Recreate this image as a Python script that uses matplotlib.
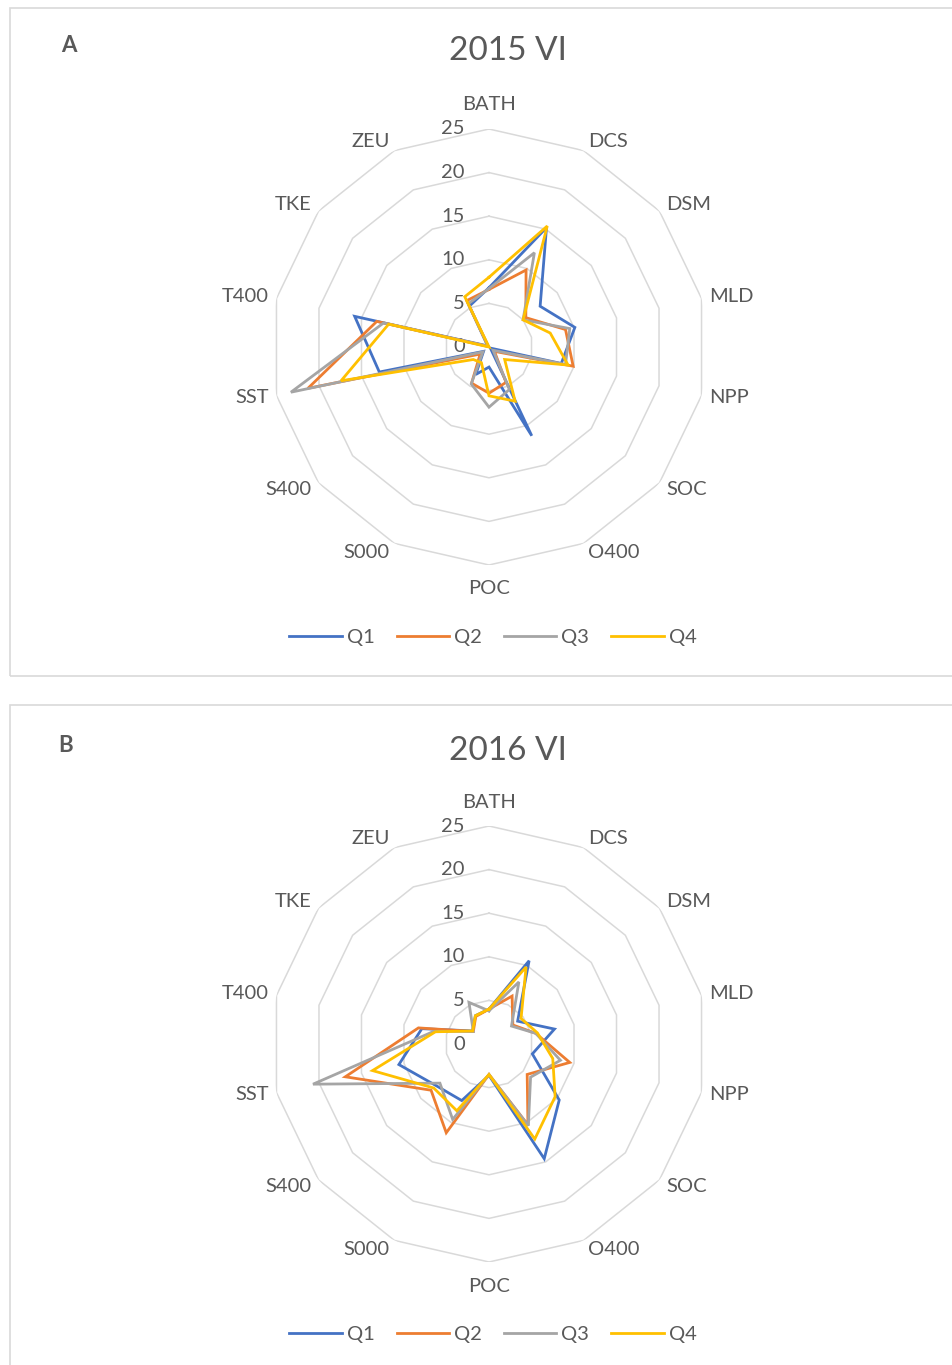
import numpy as np
import matplotlib
matplotlib.use("Agg")
import matplotlib.pyplot as plt
from matplotlib.patches import Rectangle

plt.rcParams['font.family'] = ['Lato', 'DejaVu Sans']

categories = ['BATH', 'DCS', 'DSM', 'MLD', 'NPP', 'SOC', 'O400', 'POC',
              'S000', 'S400', 'SST', 'T400', 'TKE', 'ZEU']
series_names = ['Q1', 'Q2', 'Q3', 'Q4']

# 2015 VI
q1_2015 = [6.8, 15.2, 7.5, 10.1, 8.5, 0.2, 11.3, 2.3, 3.5, 0.8, 12.9, 15.8, 0.2, 5.2]
q2_2015 = [6.6, 9.8, 5.4, 9.0, 9.9, 0.8, 4.5, 5.3, 4.6, 1.3, 21.3, 13.2, 0.1, 5.9]
q3_2015 = [6.7, 12.0, 5.0, 9.5, 9.0, 0.6, 5.4, 6.9, 4.7, 0.9, 23.3, 12.4, 0.1, 5.5]
q4_2015 = [8.0, 15.4, 5.0, 7.2, 9.3, 2.3, 6.9, 5.6, 2.0, 2.3, 17.4, 11.8, 0.0, 6.4]

# 2016 VI
q1_2016 = [4.0, 10.6, 4.2, 7.7, 5.1, 10.3, 14.6, 3.6, 7.2, 7.7, 10.6, 7.9, 2.4, 3.6]
q2_2016 = [4.0, 6.1, 3.5, 5.5, 9.5, 5.6, 10.3, 3.5, 11.3, 8.5, 16.9, 8.3, 2.3, 3.5]
q3_2016 = [3.8, 7.9, 3.3, 5.5, 8.4, 6.1, 10.4, 3.5, 9.6, 7.2, 20.7, 6.5, 2.3, 5.3]
q4_2016 = [4.0, 9.8, 4.7, 5.7, 7.5, 9.7, 12.1, 3.5, 8.5, 8.1, 13.7, 6.3, 2.4, 3.6]

ring_values = [0, 5, 10, 15, 20, 25]

colors = ['#4472C4', '#ED7D31', '#A5A5A5', '#FFC000']
text_color = '#595959'
grid_color = '#D9D9D9'

W, H = 953, 1365
fig = plt.figure(figsize=(W / 100, H / 100), dpi=100)

n = len(categories)
angles = np.linspace(0, 2 * np.pi, n, endpoint=False)
R = 218  # pixel radius of outer ring
fs = 14.5


def radar(panel_top, center_y, letter, letter_x, title_y, title, data):
    # panel border
    fig.patches.append(Rectangle((10 / W, 1 - (panel_top + 668) / H), 960 / W, 668 / H,
                                 transform=fig.transFigure, fill=False,
                                 edgecolor=grid_color, linewidth=1.2))
    fig.text(letter_x / W, 1 - (title_y - 2) / H, letter, fontsize=16, fontweight='bold',
             color=text_color, ha='center', va='center')
    fig.text(508 / W, 1 - (title_y + 3) / H, title, fontsize=24,
             color=text_color, ha='center', va='center')

    cx = 489
    ax = fig.add_axes([(cx - R) / W, 1 - (center_y + R) / H, 2 * R / W, 2 * R / H],
                      projection='polar')
    ax.set_theta_zero_location('N')
    ax.set_theta_direction(-1)
    ax.set_ylim(0, 25)
    ax.grid(False)
    ax.spines['polar'].set_visible(False)
    ax.set_xticks([])
    ax.set_yticks([])
    ax.patch.set_alpha(0)

    closed = np.append(angles, angles[0])
    for r in ring_values[1:]:
        ax.plot(closed, [r] * (n + 1), color=grid_color, lw=1.1, zorder=1)

    for r in ring_values:
        ax.annotate(str(r), xy=(0, r), xytext=(-24, 0), textcoords='offset pixels',
                    ha='right', va='center', fontsize=fs, color=text_color,
                    annotation_clip=False)

    for ang, lab in zip(angles, categories):
        s, c = np.sin(ang), np.cos(ang)
        if abs(s) < 1e-6:
            ha, dx = 'center', 0
            dy = 24 if c > 0 else -24
        else:
            ha = 'left' if s > 0 else 'right'
            dx = np.sign(s) * (2 + 6 * abs(s))
            dy = c * 10
        ax.annotate(lab, xy=(ang, 25), xytext=(dx, dy), textcoords='offset pixels',
                    ha=ha, va='center', fontsize=fs, color=text_color,
                    annotation_clip=False)

    lines = []
    for vals, col, name in zip(data, colors, series_names):
        v = np.append(vals, vals[0])
        ln, = ax.plot(closed, v, color=col, lw=2.0, label=name, zorder=3,
                      solid_joinstyle='miter')
        lines.append(ln)

    fig.legend(handles=lines, loc='center', ncol=4, frameon=False,
               bbox_to_anchor=(493 / W, 1 - (panel_top + 629) / H),
               fontsize=fs, handlelength=2.6, handletextpad=0.25,
               columnspacing=1.1, labelcolor=text_color)


radar(8, 347, 'A', 69, 48, '2015 VI', [q1_2015, q2_2015, q3_2015, q4_2015])
radar(705, 1044, 'B', 66, 748, '2016 VI', [q1_2016, q2_2016, q3_2016, q4_2016])

fig.savefig('out.png', dpi=100, facecolor='white')
